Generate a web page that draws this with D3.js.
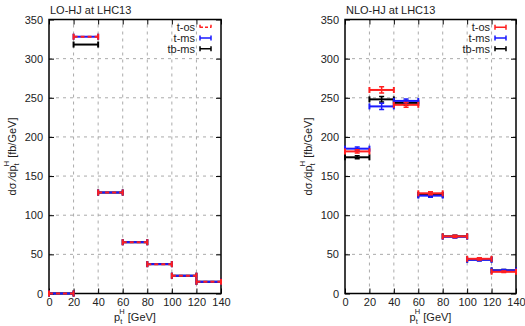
<!DOCTYPE html>
<html>
<head>
<meta charset="utf-8">
<script src="https://cdn.jsdelivr.net/npm/d3@7"></script>
<style>
  body { margin: 0; background: #fff; }
  text { font-family: "Liberation Sans", Arial, sans-serif; font-size: 11px; fill: #222; }
</style>
</head>
<body>
<div id="chart"></div>
<script>
const binEdges = [0, 20, 40, 60, 80, 100, 120, 140]
const xTicks = [0, 20, 40, 60, 80, 100, 120, 140]
const yTicks = [0, 50, 100, 150, 200, 250, 300, 350]
const seriesNames = ['t-os', 't-ms', 'tb-ms']
const seriesColors = { 't-os': '#ff1f1f', 't-ms': '#1a1aff', 'tb-ms': '#000000' }

// LO values per bin (fb/GeV)
const loTos = [0, 328, 129, 65.5, 37.5, 22.7, 15]
const loTms = [0, 328, 129, 65.5, 37.5, 22.7, 15]
const loTbms = [0, 318, 129, 65.5, 37.5, 22.7, 15]

// NLO values and errors per bin
const nloTos = [181.5, 260, 241, 128, 73, 44.3, 27.7]
const nloTms = [185, 239, 246, 125, 72.5, 43, 29.5]
const nloTbms = [174, 248, 243.5, 126, 73, 43.5, 29.5]
const nloTosErr = [2, 4, 3, 2, 1.5, 1.5, 1]
const nloTmsErr = [2, 4, 2.5, 2, 1.5, 1.5, 1]
const nloTbmsErr = [2, 3.5, 3, 2, 1.5, 1.5, 1]

const width = 525
const height = 326

const svg = d3.select('#chart')
  .append('svg')
  .attr('width', width)
  .attr('height', height)

function toBins (values, errs) {
  return values.map((v, i) => ({ x0: binEdges[i], x1: binEdges[i + 1], y: v, err: errs ? errs[i] : 0 }))
}

function drawPanel (opts) {
  const x = d3.scaleLinear().domain([0, 140]).range([opts.left, opts.right])
  const y = d3.scaleLinear().domain([0, 350]).range([293.5, 19.5])
  const g = svg.append('g')

  // grid
  g.selectAll('.vgrid')
    .data(xTicks.slice(1, -1))
    .enter()
    .append('line')
    .attr('x1', d => x(d)).attr('x2', d => x(d))
    .attr('y1', y(0)).attr('y2', y(350))
    .attr('stroke', '#aaa')
    .attr('stroke-dasharray', '3,4')
  g.selectAll('.hgrid')
    .data(yTicks.slice(1, -1))
    .enter()
    .append('line')
    .attr('x1', x(0)).attr('x2', x(140))
    .attr('y1', d => y(d)).attr('y2', d => y(d))
    .attr('stroke', '#aaa')
    .attr('stroke-dasharray', '3,4')

  // axes with inward ticks, mirrored
  g.append('g').attr('transform', `translate(0,${y(0)})`)
    .call(d3.axisBottom(x).tickValues(xTicks).tickSize(-5).tickPadding(5))
  g.append('g').attr('transform', `translate(0,${y(350)})`)
    .call(d3.axisTop(x).tickValues(xTicks).tickSize(-5).tickFormat(''))
  g.append('g').attr('transform', `translate(${x(0)},0)`)
    .call(d3.axisLeft(y).tickValues(yTicks).tickSize(-5).tickPadding(6))
  g.append('g').attr('transform', `translate(${x(140)},0)`)
    .call(d3.axisRight(y).tickValues(yTicks).tickSize(-5).tickFormat(''))
  g.selectAll('.domain').remove()
  g.selectAll('.tick line').attr('stroke', '#000').attr('stroke-width', 1)
  g.selectAll('.tick text').style('font-size', '11px').attr('fill', '#222')

  g.append('rect')
    .attr('x', x(0)).attr('y', y(350))
    .attr('width', x(140) - x(0)).attr('height', y(0) - y(350))
    .attr('fill', 'none').attr('stroke', '#000').attr('stroke-width', 1.5)

  // data
  opts.series.forEach(s => {
    const sg = g.append('g')
    const bins = toBins(s.values, s.errs)
    sg.selectAll('line.h')
      .data(bins)
      .enter()
      .append('line')
      .attr('x1', d => x(d.x0)).attr('x2', d => x(d.x1))
      .attr('y1', d => y(d.y)).attr('y2', d => y(d.y))
      .attr('stroke', s.color).attr('stroke-width', 2)
      .attr('stroke-dasharray', s.dash || null)
    sg.selectAll('line.c0')
      .data(bins)
      .enter()
      .append('line')
      .attr('x1', d => x(d.x0)).attr('x2', d => x(d.x0))
      .attr('y1', d => y(d.y) - 3).attr('y2', d => y(d.y) + 3)
      .attr('stroke', s.color).attr('stroke-width', 2)
    sg.selectAll('line.c1')
      .data(bins)
      .enter()
      .append('line')
      .attr('x1', d => x(d.x1)).attr('x2', d => x(d.x1))
      .attr('y1', d => y(d.y) - 3).attr('y2', d => y(d.y) + 3)
      .attr('stroke', s.color).attr('stroke-width', 2)
    if (s.errs) {
      sg.selectAll('line.e')
        .data(bins)
        .enter()
        .append('line')
        .attr('x1', d => x((d.x0 + d.x1) / 2)).attr('x2', d => x((d.x0 + d.x1) / 2))
        .attr('y1', d => y(d.y - d.err)).attr('y2', d => y(d.y + d.err))
        .attr('stroke', s.color).attr('stroke-width', 1.5)
      sg.selectAll('path.ecap')
        .data(bins)
        .enter()
        .append('path')
        .attr('d', d => {
          const cx = x((d.x0 + d.x1) / 2)
          return `M${cx - 2.5},${y(d.y - d.err)}H${cx + 2.5}M${cx - 2.5},${y(d.y + d.err)}H${cx + 2.5}`
        })
        .attr('stroke', s.color).attr('stroke-width', 1.5)
    }
  })

  // title
  svg.append('text')
    .attr('x', x(0) + 1).attr('y', 14)
    .text(opts.title)

  // legend
  const legendRows = [27.3, 38, 48.7]
  seriesNames.forEach((name, i) => {
    const ly = legendRows[i]
    const lx = x(140) - 10
    svg.append('text')
      .attr('x', lx - 16).attr('y', ly + 4)
      .attr('text-anchor', 'end')
      .text(name)
    const s = opts.legendStyle[name]
    svg.append('path')
      .attr('d', `M${lx - 11},${ly}H${lx}M${lx - 11},${ly - 2.5}V${ly + 2.5}M${lx},${ly - 2.5}V${ly + 2.5}`)
      .attr('stroke', seriesColors[name]).attr('stroke-width', 1.5)
      .attr('stroke-dasharray', s && s.dash ? s.dash : null)
      .attr('fill', 'none')
  })

  // axis labels
  const xl = svg.append('text')
    .attr('x', (x(0) + x(140)) / 2).attr('y', 321)
    .attr('text-anchor', 'middle')
  xl.append('tspan').text('p')
  xl.append('tspan').attr('dy', 3).style('font-size', '7.5px').text('t')
  xl.append('tspan').attr('dy', -10).attr('dx', -3).style('font-size', '7.5px').text('H')
  xl.append('tspan').attr('dy', 7).text(' [GeV]')

  const yl = svg.append('text')
    .attr('transform', `translate(${opts.left - 33},${y(175)}) rotate(-90)`)
    .attr('text-anchor', 'middle')
  yl.append('tspan').text('dσ ⁄dp')
  yl.append('tspan').attr('dy', 3).style('font-size', '7.5px').text('t')
  yl.append('tspan').attr('dy', -10).attr('dx', -3).style('font-size', '7.5px').text('H')
  yl.append('tspan').attr('dy', 7).text(' [fb/GeV]')
}

drawPanel({
  left: 49,
  right: 221,
  title: 'LO-HJ at LHC13',
  series: [
    { values: loTbms, color: seriesColors['tb-ms'] },
    { values: loTms, color: seriesColors['t-ms'] },
    { values: loTos, color: seriesColors['t-os'], dash: '4,3' }
  ],
  legendStyle: { 't-os': { dash: '3,2' } }
})

drawPanel({
  left: 345,
  right: 516,
  title: 'NLO-HJ at LHC13',
  series: [
    { values: nloTbms, errs: nloTbmsErr, color: seriesColors['tb-ms'] },
    { values: nloTms, errs: nloTmsErr, color: seriesColors['t-ms'] },
    { values: nloTos, errs: nloTosErr, color: seriesColors['t-os'] }
  ],
  legendStyle: {}
})
</script>
</body>
</html>
